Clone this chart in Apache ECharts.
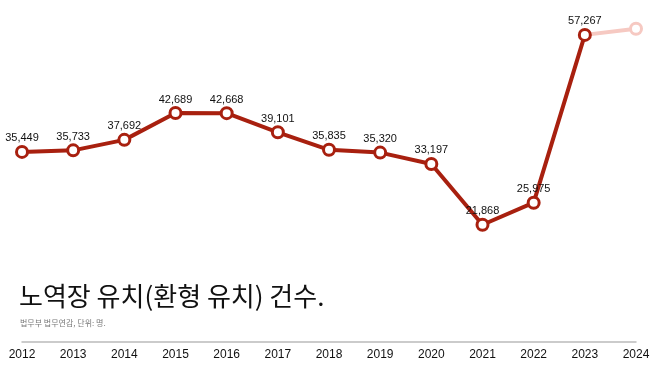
<!DOCTYPE html>
<html><head><meta charset="utf-8">
<script src="https://cdn.jsdelivr.net/npm/echarts@6/dist/echarts.min.js"></script>
<style>html,body{margin:0;padding:0;background:#fff}#c{width:658px;height:370px}</style>
</head><body><div id="c"></div>
<script>
var years = ['2012','2013','2014','2015','2016','2017','2018','2019','2020','2021','2022','2023','2024'];
var counts = [35449, 35733, 37692, 42689, 42668, 39101, 35835, 35320, 33197, 21868, 25975, 57267, null];
var projected = [null, null, null, null, null, null, null, null, null, null, null, 57267, 58400];
var titleText = '노역장 유치(환형 유치) 건수.';
var sourceText = '법무부 법무연감, 단위: 명.';

var chart = echarts.init(document.getElementById('c'));
chart.setOption({
  animation: false,
  backgroundColor: '#fff',
  grid: {left: 22, right: 22, top: 0, bottom: 28},
  title: [
    {text: titleText, left: 14, top: 278, textStyle: {fontFamily: 'Noto Sans CJK KR', fontSize: 26, fontWeight: 'normal', color: '#111'}},
    {text: sourceText, left: 15, top: 314, textStyle: {fontFamily: 'Noto Sans CJK KR', fontSize: 8, fontWeight: 'normal', color: '#777'}}
  ],
  xAxis: {
    type: 'category', data: years, boundaryGap: false,
    axisLine: {show: true, lineStyle: {color: '#bbb', width: 1.5}},
    axisTick: {show: false},
    axisLabel: {color: '#111', fontSize: 12, fontFamily: 'Liberation Sans', margin: 7, fontWeight: 500}
  },
  yAxis: {type: 'value', min: 0, max: 63770, show: false, splitLine: {show: false}},
  series: [
    {
      type: 'line', data: projected, z: 1,
      lineStyle: {color: '#f6c9c2', width: 4},
      itemStyle: {color: '#fff', borderColor: '#f6c9c2', borderWidth: 3},
      symbol: 'circle', symbolSize: function (v, p) { return p.dataIndex === 12 ? 11 : 0; },
      showSymbol: true, label: {show: false}
    },
    {
      type: 'line', data: counts, z: 3,
      lineStyle: {color: '#a8200f', width: 4},
      itemStyle: {color: '#fff', borderColor: '#a8200f', borderWidth: 3},
      symbol: 'circle', symbolSize: 11, showSymbol: true,
      label: {
        show: true, position: 'top', distance: 1, color: '#111', fontSize: 11, fontFamily: 'Liberation Sans',
        formatter: function (p) { return p.value.toLocaleString('en-US'); }
      }
    }
  ]
});
</script></body></html>
